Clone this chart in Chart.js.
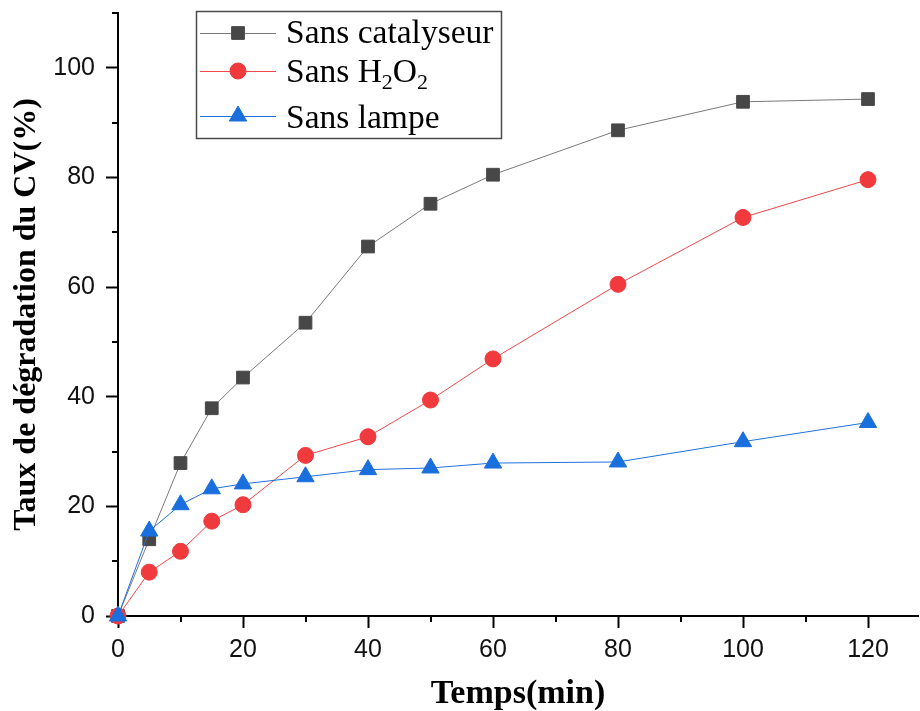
<!DOCTYPE html>
<html>
<head>
<meta charset="utf-8">
<script src="https://cdn.jsdelivr.net/npm/chart.js@4.4.1/dist/chart.umd.min.js"></script>
<style>
  html, body { margin: 0; padding: 0; background: #ffffff; }
  #wrap { width: 920px; height: 711px; }
</style>
</head>
<body>
<div id="wrap"><canvas id="chart" width="920" height="711"></canvas></div>
<script>
// Reaction time (min)
const timeMin = [0, 5, 10, 15, 20, 30, 40, 50, 60, 80, 100, 120];

// Degradation rate of CV (%) for each control experiment
const sansCatalyseur = [0, 14.0, 27.9, 37.9, 43.5, 53.5, 67.4, 75.2, 80.5, 88.6, 93.8, 94.3];
const sansH2O2       = [0, 8.0, 11.8, 17.3, 20.3, 29.3, 32.7, 39.4, 46.9, 60.5, 72.7, 79.6];
const sansLampe      = [0, 15.5, 20.3, 23.2, 24.1, 25.4, 26.7, 27.0, 27.9, 28.1, 31.8, 35.3];

// Series names ("_" marks a subscript digit)
const seriesLabels = ['Sans catalyseur', 'Sans H_2O_2', 'Sans lampe'];

// Axis tick values
const xMajorTicks = [0, 20, 40, 60, 80, 100, 120];
const xMinorTicks = [10, 30, 50, 70, 90, 110];
const yMajorTicks = [0, 20, 40, 60, 80, 100];
const yMinorTicks = [10, 30, 50, 70, 90, 110];

const xTitle = 'Temps(min)';
const yTitle = 'Taux de dégradation du CV(%)';

const toPoints = (ys) => ys.map((y, i) => ({ x: timeMin[i], y }));
const plainLabel = (s) => s.replace(/_(\d)/g, (m, d) => String.fromCharCode(0x2080 + Number(d)));

const series = [
  { values: sansCatalyseur, line: '#7a7a7a', fill: '#474747', style: 'rect', radius: 9, order: 2 },
  { values: sansH2O2, line: '#f0484a', fill: '#f03a3d', style: 'circle', radius: 8, order: 1 },
  { values: sansLampe, line: '#2070dc', fill: '#1a6fde', style: 'triangle', radius: 10, order: 0 }
];

const datasets = series.map((s, i) => ({
  label: plainLabel(seriesLabels[i]),
  data: toPoints(s.values),
  borderColor: s.line,
  borderWidth: 1,
  backgroundColor: s.fill,
  pointBackgroundColor: s.fill,
  pointBorderColor: s.fill,
  pointBorderWidth: 1,
  pointStyle: s.style,
  pointRadius: s.radius,
  pointHoverRadius: s.radius,
  tension: 0,
  clip: false,
  order: s.order
}));

// Small outward ticks between the labelled ones
const minorTicks = {
  id: 'minorTicks',
  beforeDatasetsDraw(chart) {
    const { ctx, scales: { x, y }, chartArea } = chart;
    ctx.save();
    ctx.strokeStyle = '#000';
    ctx.lineWidth = 2;
    ctx.beginPath();
    xMinorTicks.forEach(v => {
      const px = Math.round(x.getPixelForValue(v));
      ctx.moveTo(px, chartArea.bottom);
      ctx.lineTo(px, chartArea.bottom + 6);
    });
    yMinorTicks.forEach(v => {
      const py = Math.round(y.getPixelForValue(v));
      ctx.moveTo(chartArea.left - 6, py);
      ctx.lineTo(chartArea.left, py);
    });
    ctx.stroke();
    ctx.restore();
  }
};

// Boxed legend with subscripted chemical formula
const boxedLegend = {
  id: 'boxedLegend',
  afterDraw(chart) {
    const { ctx } = chart;
    const box = { x: 196, y: 11, w: 305, h: 127 };
    const rows = [33, 71, 116];
    const baselines = [43, 82, 128];
    ctx.save();
    ctx.strokeStyle = '#4a4a4a';
    ctx.lineWidth = 1.5;
    ctx.strokeRect(box.x + 0.5, box.y + 0.5, box.w, box.h);

    series.forEach((s, i) => {
      const yRow = rows[i];
      ctx.strokeStyle = s.line;
      ctx.lineWidth = 1;
      ctx.beginPath();
      ctx.moveTo(200, yRow + 0.5);
      ctx.lineTo(276, yRow + 0.5);
      ctx.stroke();
      ctx.fillStyle = s.fill;
      ctx.strokeStyle = s.fill;
      Chart.helpers.drawPoint(ctx, { pointStyle: s.style, radius: s.radius, rotation: 0, borderWidth: 1 }, 238, yRow);

      // text, with "_d" rendered as a lowered, smaller digit
      const parts = seriesLabels[i].split(/(_\d)/).filter(p => p.length);
      let xt = 286;
      ctx.fillStyle = '#000';
      ctx.textBaseline = 'alphabetic';
      ctx.textAlign = 'left';
      parts.forEach(p => {
        if (p[0] === '_') {
          ctx.font = '22px "Liberation Serif", "Times New Roman", serif';
          ctx.fillText(p.slice(1), xt, baselines[i] + 7);
          xt += ctx.measureText(p.slice(1)).width;
        } else {
          ctx.font = '33.5px "Liberation Serif", "Times New Roman", serif';
          ctx.fillText(p, xt, baselines[i]);
          xt += ctx.measureText(p).width;
        }
      });
    });
    ctx.restore();
  }
};

const tickFont = { family: '"Liberation Sans", Arial, sans-serif', size: 25 };
const yTitleFont = { family: '"Liberation Serif", "Times New Roman", serif', size: 32, weight: 'bold', lineHeight: 1 };
const xTitleFont = { family: '"Liberation Serif", "Times New Roman", serif', size: 34, weight: 'bold', lineHeight: 1 };

new Chart(document.getElementById('chart'), {
  type: 'line',
  data: { datasets },
  options: {
    responsive: false,
    animation: false,
    devicePixelRatio: 1,
    layout: { autoPadding: false, padding: { top: 13, right: 2, left: 0, bottom: 0 } },
    plugins: {
      legend: { display: false },
      tooltip: { enabled: false }
    },
    scales: {
      x: {
        type: 'linear',
        min: 0,
        max: 128,
        afterBuildTicks: (scale) => { scale.ticks = xMajorTicks.map(v => ({ value: v })); },
        afterFit: (scale) => { scale.height = 95; scale.paddingLeft = 0; scale.paddingRight = 0; },
        border: { display: true, color: '#000', width: 2 },
        grid: { display: true, drawOnChartArea: false, drawTicks: true, tickLength: 12, tickWidth: 2, tickColor: '#000' },
        ticks: { font: tickFont, color: '#111', padding: 7, maxRotation: 0, autoSkip: false },
        title: { display: true, text: xTitle, font: xTitleFont, color: '#000', padding: { top: 0, bottom: 0 } }
      },
      y: {
        type: 'linear',
        min: 0,
        max: 110,
        afterBuildTicks: (scale) => { scale.ticks = yMajorTicks.map(v => ({ value: v })); },
        afterFit: (scale) => { scale.width = 118; scale.paddingTop = 0; scale.paddingBottom = 0; },
        border: { display: true, color: '#000', width: 2 },
        grid: { display: true, drawOnChartArea: false, drawTicks: true, tickLength: 12, tickWidth: 2, tickColor: '#000' },
        ticks: { font: tickFont, color: '#111', padding: 11, autoSkip: false },
        title: { display: true, text: yTitle, font: yTitleFont, color: '#000', padding: { top: 11, bottom: 0 } }
      }
    }
  },
  plugins: [minorTicks, boxedLegend]
});
</script>
</body>
</html>
